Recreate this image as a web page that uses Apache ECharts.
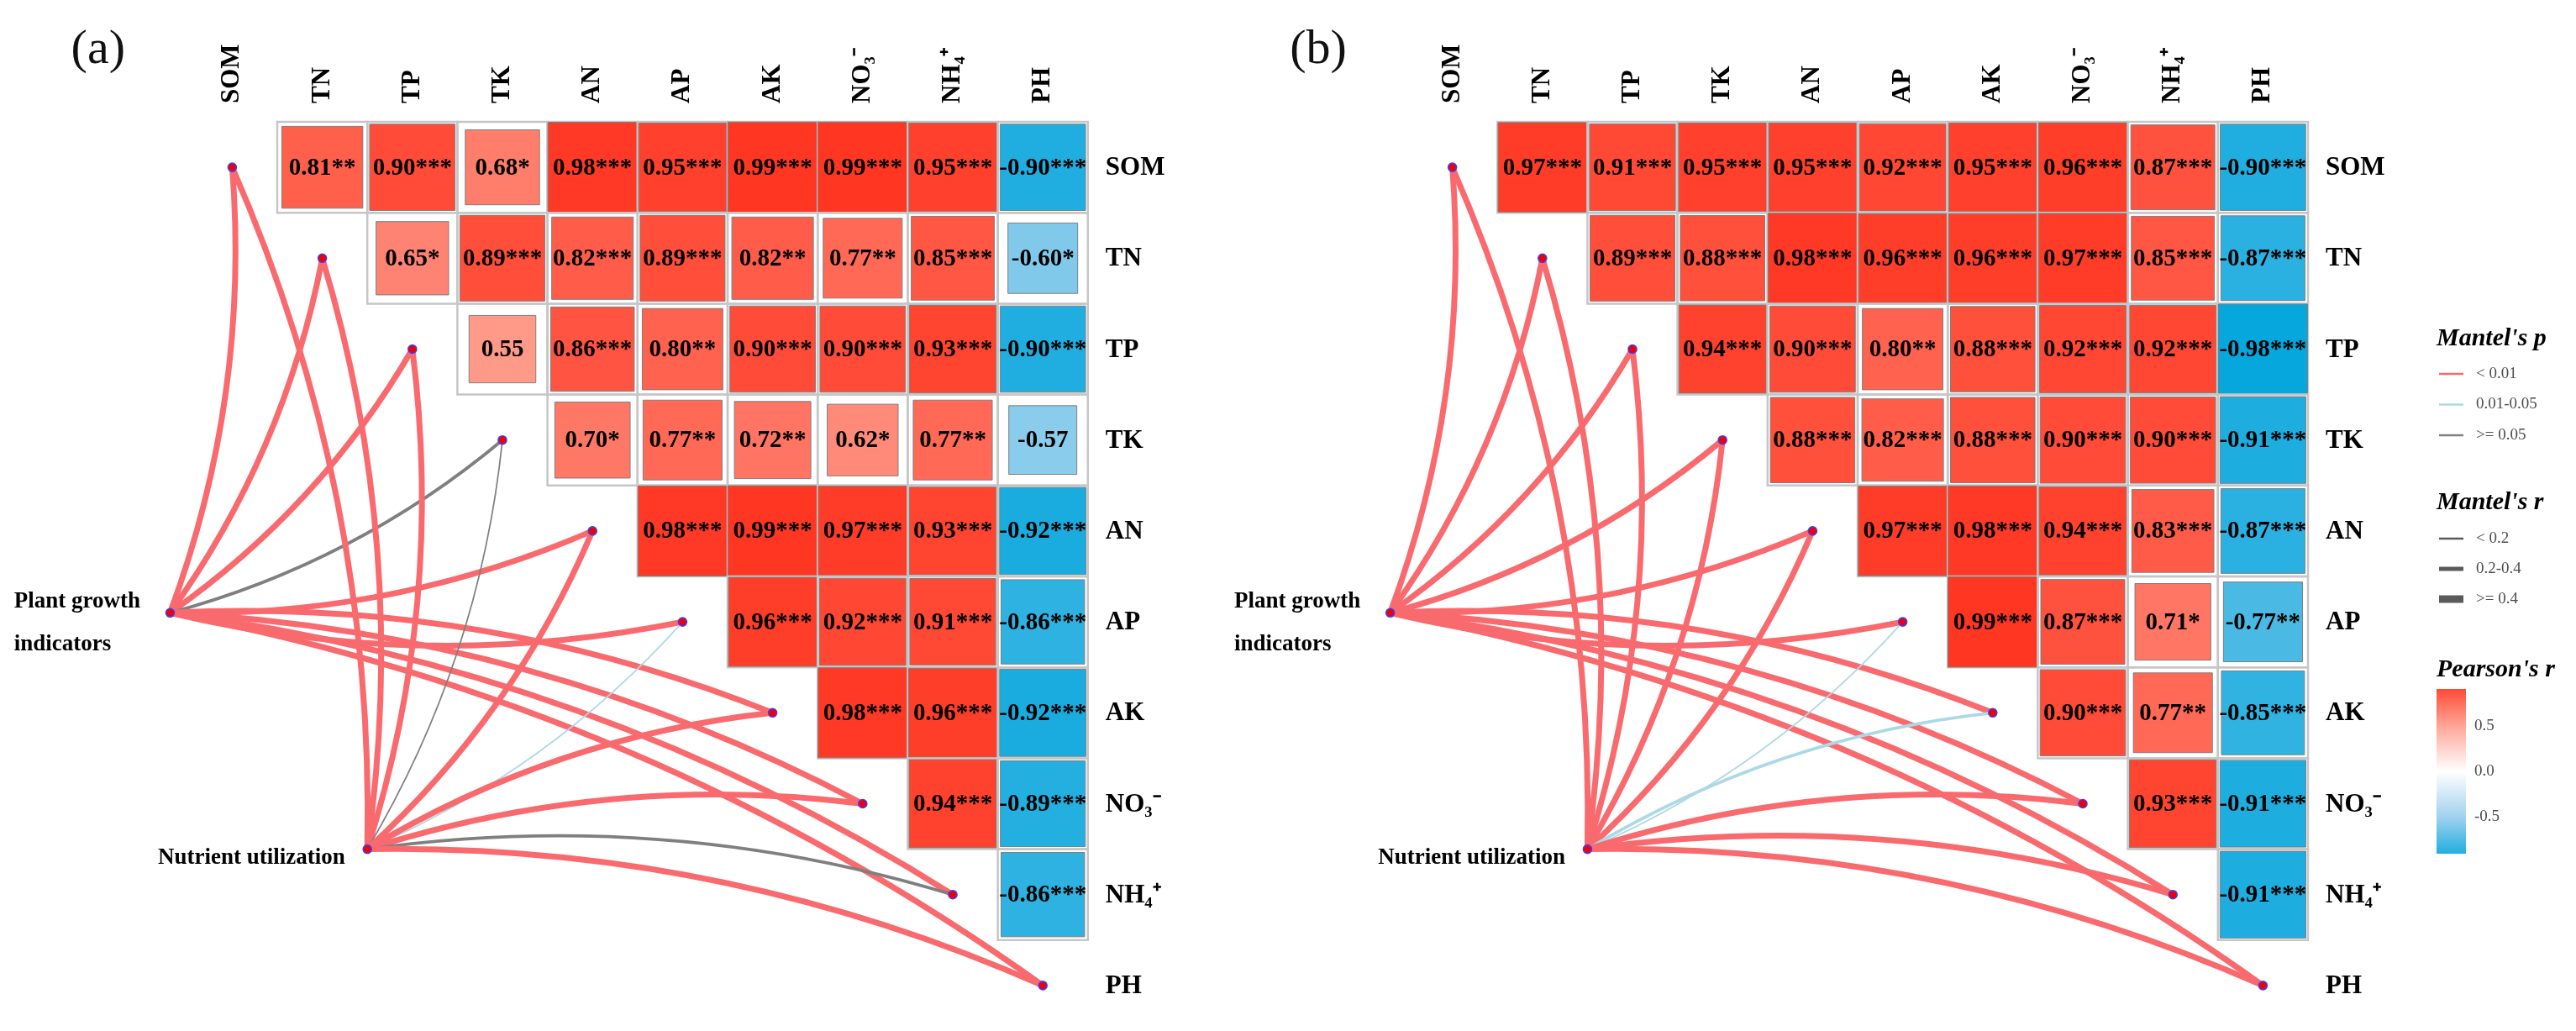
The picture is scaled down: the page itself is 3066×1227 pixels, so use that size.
<!DOCTYPE html>
<html><head><meta charset="utf-8">
<script src="https://cdn.jsdelivr.net/npm/echarts@6/dist/echarts.min.js"></script>
<style>html,body{margin:0;padding:0;background:#fff}#c{width:3066px;height:1227px}</style>
</head><body><div id="c"></div>
<script>
// ---------------- DATA ----------------
const variables = ['SOM','TN','TP','TK','AN','AP','AK','NO₃⁻','NH₄⁺','PH'];

// Pearson's r, upper triangle: row i holds columns i+1 .. 9
const pearsonA = [
  [0.81,0.90,0.68,0.98,0.95,0.99,0.99,0.95,-0.90],
  [0.65,0.89,0.82,0.89,0.82,0.77,0.85,-0.60],
  [0.55,0.86,0.80,0.90,0.90,0.93,-0.90],
  [0.70,0.77,0.72,0.62,0.77,-0.57],
  [0.98,0.99,0.97,0.93,-0.92],
  [0.96,0.92,0.91,-0.86],
  [0.98,0.96,-0.92],
  [0.94,-0.89],
  [-0.86]
];
const starsA = [
  ['**','***','*','***','***','***','***','***','***'],
  ['*','***','***','***','**','**','***','*'],
  ['','***','**','***','***','***','***'],
  ['*','**','**','*','**',''],
  ['***','***','***','***','***'],
  ['***','***','***','***'],
  ['***','***','***'],
  ['***','***'],
  ['***']
];
const pearsonB = [
  [0.97,0.91,0.95,0.95,0.92,0.95,0.96,0.87,-0.90],
  [0.89,0.88,0.98,0.96,0.96,0.97,0.85,-0.87],
  [0.94,0.90,0.80,0.88,0.92,0.92,-0.98],
  [0.88,0.82,0.88,0.90,0.90,-0.91],
  [0.97,0.98,0.94,0.83,-0.87],
  [0.99,0.87,0.71,-0.77],
  [0.90,0.77,-0.85],
  [0.93,-0.91],
  [-0.91]
];
const starsB = [
  ['***','***','***','***','***','***','***','***','***'],
  ['***','***','***','***','***','***','***','***'],
  ['***','***','**','***','***','***','***'],
  ['***','***','***','***','***','***'],
  ['***','***','***','***','***'],
  ['***','***','*','**'],
  ['***','**','***'],
  ['***','***'],
  ['***']
];

const envGroups = ['Plant growth\nindicators', 'Nutrient utilization'];
const mantelPClasses = ['< 0.01', '0.01-0.05', '>= 0.05'];
const mantelRClasses = ['< 0.2', '0.2-0.4', '>= 0.4'];
// Mantel class of each link (env group -> soil variable, in variable order)
const mantelP_A_plant    = [0,0,0,2,0,0,0,0,0,0];
const mantelR_A_plant    = [2,2,2,1,2,2,2,2,2,2];
const mantelP_A_nutrient = [0,0,0,2,0,1,0,0,2,0];
const mantelR_A_nutrient = [2,2,2,0,2,0,2,2,1,2];
const mantelP_B_plant    = [0,0,0,0,0,0,0,0,0,0];
const mantelR_B_plant    = [2,2,2,2,2,2,2,2,2,2];
const mantelP_B_nutrient = [0,0,0,0,0,1,1,0,0,0];
const mantelR_B_nutrient = [2,2,2,2,2,0,1,2,2,2];

const colorbarRange = [-0.9, 0.9];
const colorbarTicks = [-0.5, 0, 0.5];

// ---------------- STYLE / LAYOUT ----------------
const FONT = '"Liberation Serif","Times New Roman",serif';
const CELL_COLORS = ['#00A5DC','#A0D2EE','#FFFFFF','#FFA595','#FF3520'];
const P_COLORS = ['#F96A6E', '#ADD8E6', '#7F7F7F'];
const R_WIDTHS = [1.7, 3.8, 7];
const CELL_W = 107.2, CELL_H = 109.7, TOP = 145;
const NODE_POS = [[-0.19, 5.4], [2.0, 8.0]];   // env nodes, in cell units
const CURVE = 0.11;

const panels = [
  {left: 222.8, pearson: pearsonA, stars: starsA, tag: '(a)',
   mantel: [[mantelP_A_plant, mantelR_A_plant], [mantelP_A_nutrient, mantelR_A_nutrient]]},
  {left: 1675, pearson: pearsonB, stars: starsB, tag: '(b)',
   mantel: [[mantelP_B_plant, mantelR_B_plant], [mantelP_B_nutrient, mantelR_B_nutrient]]}
];

function hexRgb(h){ h=h.replace('#',''); return [0,2,4].map(i=>parseInt(h.substr(i,2),16)); }
function colorAt(v){
  const n = CELL_COLORS.length;
  let t = (v + 1) / 2 * (n - 1);
  let i = Math.min(Math.floor(t), n - 2); const f = t - i;
  const a = hexRgb(CELL_COLORS[i]), b = hexRgb(CELL_COLORS[i+1]);
  return 'rgb(' + a.map((x,k)=>Math.round(x + (b[k]-x)*f)).join(',') + ')';
}

const chart = echarts.init(document.getElementById('c'));
const grids = [], xAxes = [], yAxes = [], series = [], graphics = [];

panels.forEach((P, k) => {
  grids.push({left: P.left - 2*CELL_W, top: TOP, width: 12*CELL_W, height: 10*CELL_H, show: false});
  xAxes.push({type: 'value', gridIndex: k, min: -2, max: 10, show: false});
  yAxes.push({type: 'value', gridIndex: k, min: 0, max: 10, inverse: true, show: false});
});

// cell series (indices 0,1)
panels.forEach((P, k) => {
  const cells = [];
  P.pearson.forEach((row, i) => row.forEach((r, m) => {
    const j = i + 1 + m;
    cells.push({value: [j, i, r], label: r.toFixed(2) + P.stars[i][m]});
  }));
  series.push({
    type: 'custom', xAxisIndex: k, yAxisIndex: k, clip: false, z: 2,
    data: cells.map(c => ({value: c.value})),
    renderItem: function (params, api) {
      const c = api.value(0), r = api.value(1), v = api.value(2);
      const p0 = api.coord([c, r]), p1 = api.coord([c + 1, r + 1]);
      const w = p1[0] - p0[0], h = p1[1] - p0[1];
      const s = Math.sqrt(Math.abs(v));
      const cx = p0[0] + w/2, cy = p0[1] + h/2;
      return {type: 'group', children: [
        {type: 'rect', shape: {x: p0[0], y: p0[1], width: w, height: h},
         style: {fill: 'none', stroke: '#C6C6C6', lineWidth: 2.5}},
        {type: 'rect', shape: {x: cx - w*s/2, y: cy - h*s/2, width: w*s, height: h*s},
         style: {fill: api.visual('color'), stroke: '#7E7E7E', lineWidth: 1}},
        {type: 'text', x: cx, y: cy + 1,
         style: {text: cells[params.dataIndex].label, font: 'bold 29px ' + FONT, fill: '#000',
                 align: 'center', verticalAlign: 'middle', textAlign: 'center', textVerticalAlign: 'middle'}}
      ]};
    }
  });
});

// links
panels.forEach((P, k) => {
  const data = [];
  P.mantel.forEach((pr, g) => {
    const pc = pr[0], rc = pr[1];
    variables.forEach((v, i) => {
      data.push({coords: [NODE_POS[g], [i + 0.5, i + 0.5]],
        lineStyle: {color: P_COLORS[pc[i]], width: R_WIDTHS[rc[i]], opacity: 1,
                    curveness: i <= 5 ? -CURVE : CURVE}});
    });
  });
  series.push({type: 'lines', coordinateSystem: 'cartesian2d', xAxisIndex: k, yAxisIndex: k,
    clip: false, z: 3, silent: true, lineStyle: {opacity: 1}, data: data});
});

// dots
panels.forEach((P, k) => {
  const pts = variables.map((v, i) => [i + 0.5, i + 0.5]).concat(NODE_POS);
  series.push({type: 'scatter', xAxisIndex: k, yAxisIndex: k, z: 5, symbol: 'circle', symbolSize: 10,
    clip: false, itemStyle: {color: '#F00000', borderColor: '#3D3DFF', borderWidth: 1.6, opacity: 1},
    data: pts});
});

// column + row labels
panels.forEach((P, k) => {
  series.push({type: 'custom', xAxisIndex: k, yAxisIndex: k, clip: false, z: 4,
    data: variables.map((v, i) => [i]),
    renderItem: function (params, api) {
      const j = api.value(0);
      const pt = api.coord([j + 0.5, 0]);
      const pr = api.coord([10, j + 0.5]);
      return {type: 'group', children: [
        {type: 'text', x: pt[0], y: pt[1] - 22, rotation: Math.PI / 2,
         style: {text: variables[j], font: 'bold 31px ' + FONT, fill: '#000',
                 align: 'left', verticalAlign: 'middle', textAlign: 'left', textVerticalAlign: 'middle'}},
        {type: 'text', x: pr[0] + 21, y: pr[1] + 1,
         style: {text: variables[j], font: 'bold 31px ' + FONT, fill: '#000',
                 align: 'left', verticalAlign: 'middle', textAlign: 'left', textVerticalAlign: 'middle'}}
      ]};
    }
  });
  // panel tag and env labels
  graphics.push({type: 'text', x: P.left - 106, y: 60,
    style: {text: P.tag, font: '58px ' + FONT, fill: '#111', align: 'center', verticalAlign: 'middle',
            textAlign: 'center', textVerticalAlign: 'middle'}});
  graphics.push({type: 'text', x: P.left - 206, y: 742,
    style: {text: envGroups[0], fontSize: 27, fontWeight: 'bold', fontFamily: FONT, lineHeight: 51, fill: '#000',
            align: 'left', verticalAlign: 'middle', textAlign: 'left', textVerticalAlign: 'middle'}});
  graphics.push({type: 'text', x: P.left + 188, y: 1021,
    style: {text: envGroups[1], fontSize: 27, fontWeight: 'bold', fontFamily: FONT, fill: '#000',
            align: 'right', verticalAlign: 'middle', textAlign: 'right', textVerticalAlign: 'middle'}});
});

// legend
const LX = 2900;
function title(t, y){ graphics.push({type: 'text', x: LX, y: y, style: {text: t, font: 'italic bold 30px ' + FONT,
  fill: '#000', align: 'left', verticalAlign: 'middle', textAlign: 'left', textVerticalAlign: 'middle'}}); }
function item(t, y, color, w){
  graphics.push({type: 'line', shape: {x1: LX + 3, y1: y, x2: LX + 32, y2: y}, style: {stroke: color, lineWidth: w}});
  graphics.push({type: 'text', x: LX + 47, y: y, style: {text: t, font: '19px ' + FONT, fill: '#4D4D4D',
    align: 'left', verticalAlign: 'middle', textAlign: 'left', textVerticalAlign: 'middle'}});
}
title("Mantel's p", 403);
mantelPClasses.forEach((t, i) => item(t, 445 + i*36.5, P_COLORS[i], 2.5));
title("Mantel's r", 598);
const keyW = [2.5, 5, 9];
mantelRClasses.forEach((t, i) => item(t, 641 + i*36, '#5A5A5A', keyW[i]));
title("Pearson's r", 797);

// colorbar grid
grids.push({left: LX, top: 820, width: 35, height: 196, show: false});
xAxes.push({type: 'value', gridIndex: 2, min: 0, max: 1, show: false});
yAxes.push({type: 'value', gridIndex: 2, min: colorbarRange[0], max: colorbarRange[1], position: 'right',
  axisLine: {show: false}, splitLine: {show: false},
  axisTick: {show: true, inside: true, length: 7, lineStyle: {color: '#fff', width: 1.5}, customValues: colorbarTicks},
  axisLabel: {show: true, margin: 10, customValues: colorbarTicks, formatter: v => Number(v).toFixed(1),
    fontFamily: FONT, fontSize: 19, color: '#4D4D4D'}});
series.push({type: 'custom', xAxisIndex: 2, yAxisIndex: 2, z: 1, data: [[0]],
  renderItem: function (params, api) {
    const a = api.coord([0, colorbarRange[1]]), b = api.coord([1, colorbarRange[0]]);
    const vals = [0.9, 0.5, 0, -0.5, -0.9];
    const stops = vals.map(v => ({offset: (colorbarRange[1] - v) / (colorbarRange[1] - colorbarRange[0]), color: colorAt(v)}));
    return {type: 'rect', shape: {x: a[0], y: a[1], width: b[0] - a[0], height: b[1] - a[1]},
      style: {fill: new echarts.graphic.LinearGradient(0, 0, 0, 1, stops)}};
  }});

chart.setOption({
  animation: false,
  backgroundColor: '#fff',
  grid: grids, xAxis: xAxes, yAxis: yAxes,
  visualMap: [{type: 'continuous', show: false, min: -1, max: 1, dimension: 2, seriesIndex: [0, 1],
    inRange: {color: CELL_COLORS}}],
  graphic: graphics,
  series: series
});
</script></body></html>
